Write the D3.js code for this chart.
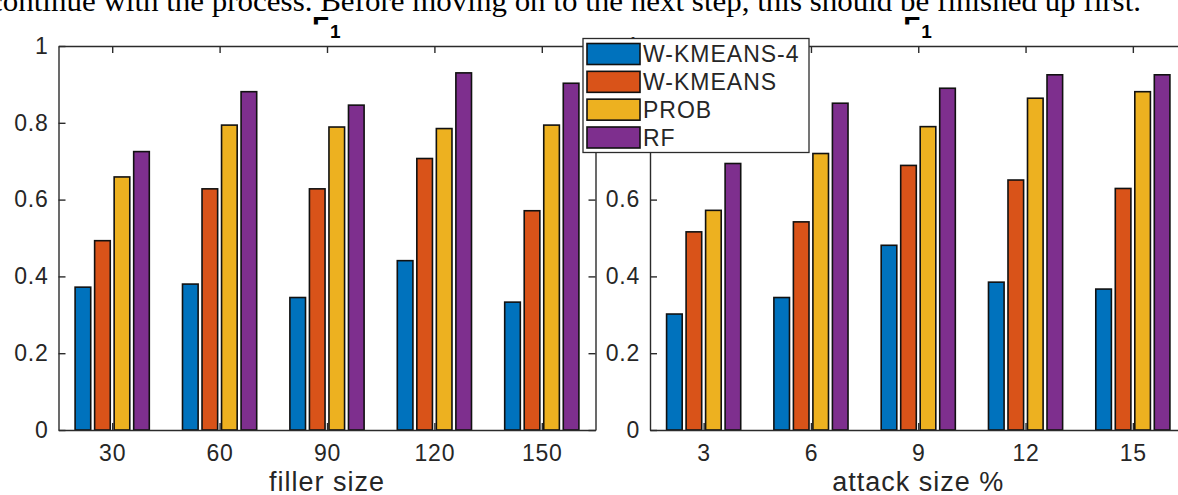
<!DOCTYPE html>
<html>
<head>
<meta charset="utf-8">
<script src="https://cdn.jsdelivr.net/npm/d3@7"></script>
<style>
  html, body { margin: 0; padding: 0; background: #fff; }
  svg { display: block; }
</style>
</head>
<body>
<svg id="chart" width="1178" height="495"></svg>
<script>
// ---- data ----
const categoriesLeft = ["30", "60", "90", "120", "150"];
const categoriesRight = ["3", "6", "9", "12", "15"];
const seriesNames = ["W-KMEANS-4", "W-KMEANS", "PROB", "RF"];
const fillerWK4  = [0.372, 0.380, 0.345, 0.441, 0.333];
const fillerWK   = [0.493, 0.628, 0.628, 0.707, 0.571];
const fillerPROB = [0.659, 0.794, 0.789, 0.785, 0.794];
const fillerRF   = [0.725, 0.881, 0.846, 0.930, 0.903];
const attackWK4  = [0.302, 0.345, 0.481, 0.385, 0.367];
const attackWK   = [0.516, 0.542, 0.689, 0.651, 0.629];
const attackPROB = [0.572, 0.720, 0.790, 0.864, 0.881];
const attackRF   = [0.694, 0.851, 0.890, 0.925, 0.925];
const yTicks = [0, 0.2, 0.4, 0.6, 0.8, 1];
const yTickLabels = ["0", "0.2", "0.4", "0.6", "0.8", "1"];
const xLabelLeft = "filler size";
const xLabelRight = "attack size %";
const topText = "continue with the process. Before moving on to the next step, this should be finished up first.";

const colors = ["#0072BD", "#D95319", "#EDB120", "#7E2F8E"];
const axisColor = "#2b2b2b";
const textColor = "#262626";
const fontFam = "'Liberation Sans', Arial, Helvetica, sans-serif";

const svg = d3.select("#chart");

// top sentence (cut off by the top edge)
svg.append("text")
  .attr("x", -11).attr("y", 11)
  .attr("textLength", 1152).attr("lengthAdjust", "spacingAndGlyphs")
  .style("font-family", "'Liberation Serif', 'Times New Roman', serif")
  .style("font-size", "30px").attr("fill", "#000")
  .text(topText);

const yTop = 46, yBot = 430;

function drawPanel(x0, x1, cats, seriesVals, xLabel) {
  const g = svg.append("g");
  const x = d3.scalePoint().domain(cats).range([x0, x1]).padding(0.5);
  const y = d3.scaleLinear().domain([0, 1]).range([yBot, yTop]);
  const step = x.step();
  const gw = step * Math.min(0.8, seriesNames.length / (seriesNames.length + 1.5));
  const inner = d3.scaleBand().domain(seriesNames).range([-gw / 2, gw / 2])
    .paddingInner(0.2).paddingOuter(0.1);

  seriesNames.forEach((s, si) => {
    g.selectAll(null).data(cats).enter().append("rect")
      .attr("x", (c) => x(c) + inner(s))
      .attr("width", inner.bandwidth())
      .attr("y", (c, i) => y(seriesVals[si][i]))
      .attr("height", (c, i) => y(0) - y(seriesVals[si][i]))
      .attr("fill", colors[si])
      .attr("stroke", "#111").attr("stroke-width", 1.6);
  });

  const fmt = (d) => yTickLabels[yTicks.indexOf(d)];
  const styleAxis = (a) => {
    a.select(".domain").attr("stroke", axisColor).attr("stroke-width", 1.4);
    a.selectAll(".tick line").attr("stroke", axisColor).attr("stroke-width", 1.4);
    a.selectAll("text").attr("fill", textColor)
      .style("font-family", fontFam).style("font-size", "23px")
      .style("letter-spacing", "0.8px");
  };

  const ax = g.append("g").attr("transform", `translate(0,${yBot})`)
    .call(d3.axisBottom(x).tickSizeInner(-7).tickSizeOuter(0).tickPadding(15));
  styleAxis(ax);
  ax.selectAll("text").attr("dy", "0.71em");
  const axT = g.append("g").attr("transform", `translate(0,${yTop})`)
    .call(d3.axisTop(x).tickSizeInner(-7).tickSizeOuter(0).tickFormat(""));
  styleAxis(axT);
  const ay = g.append("g").attr("transform", `translate(${x0},0)`)
    .call(d3.axisLeft(y).tickValues(yTicks).tickFormat(fmt).tickSizeInner(-7).tickSizeOuter(0).tickPadding(10));
  styleAxis(ay);
  const ayR = g.append("g").attr("transform", `translate(${x1},0)`)
    .call(d3.axisRight(y).tickValues(yTicks).tickFormat("").tickSizeInner(-7).tickSizeOuter(0));
  styleAxis(ayR);

  g.append("text")
    .attr("x", (x0 + x1) / 2).attr("y", 491)
    .attr("text-anchor", "middle").attr("fill", textColor)
    .style("font-family", fontFam).style("font-size", "27px")
    .style("letter-spacing", "1px")
    .text(xLabel);
  return (x0 + x1) / 2;
}

const cL = drawPanel(58.5, 595.5, categoriesLeft, [fillerWK4, fillerWK, fillerPROB, fillerRF], xLabelLeft);
const cR = drawPanel(650, 1186.5, categoriesRight, [attackWK4, attackWK, attackPROB, attackRF], xLabelRight);

// titles F_1 (partially hidden)
svg.append("defs").append("clipPath").attr("id", "fclip")
  .append("rect").attr("x", 0).attr("y", 14).attr("width", 1178).attr("height", 10.5);
[cL, cR].forEach((cx) => {
  svg.append("text")
    .attr("x", cx - 15).attr("y", 36)
    .attr("clip-path", "url(#fclip)")
    .style("font-family", fontFam).style("font-size", "28px").style("font-weight", "bold")
    .attr("fill", "#000").text("F");
  svg.append("text")
    .attr("x", cx + 3).attr("y", 37.5)
    .style("font-family", fontFam).style("font-size", "19px").style("font-weight", "bold")
    .attr("fill", "#000").text("1");
});

// legend
const lg = svg.append("g");
lg.append("rect").attr("x", 583).attr("y", 38.5).attr("width", 226).attr("height", 114)
  .attr("fill", "#fff").attr("stroke", axisColor).attr("stroke-width", 1.3);
const rowY = d3.scaleLinear().domain([0, seriesNames.length - 1]).range([54, 137.5]);
seriesNames.forEach((s, i) => {
  lg.append("rect").attr("x", 587).attr("y", rowY(i) - 10.5).attr("width", 53).attr("height", 21)
    .attr("fill", colors[i]).attr("stroke", "#111").attr("stroke-width", 1.6);
  lg.append("text").attr("x", 643).attr("y", rowY(i) + 8.2)
    .attr("fill", textColor)
    .style("font-family", fontFam).style("font-size", "23px")
    .style("letter-spacing", "1px")
    .text(s);
});
</script>
</body>
</html>
